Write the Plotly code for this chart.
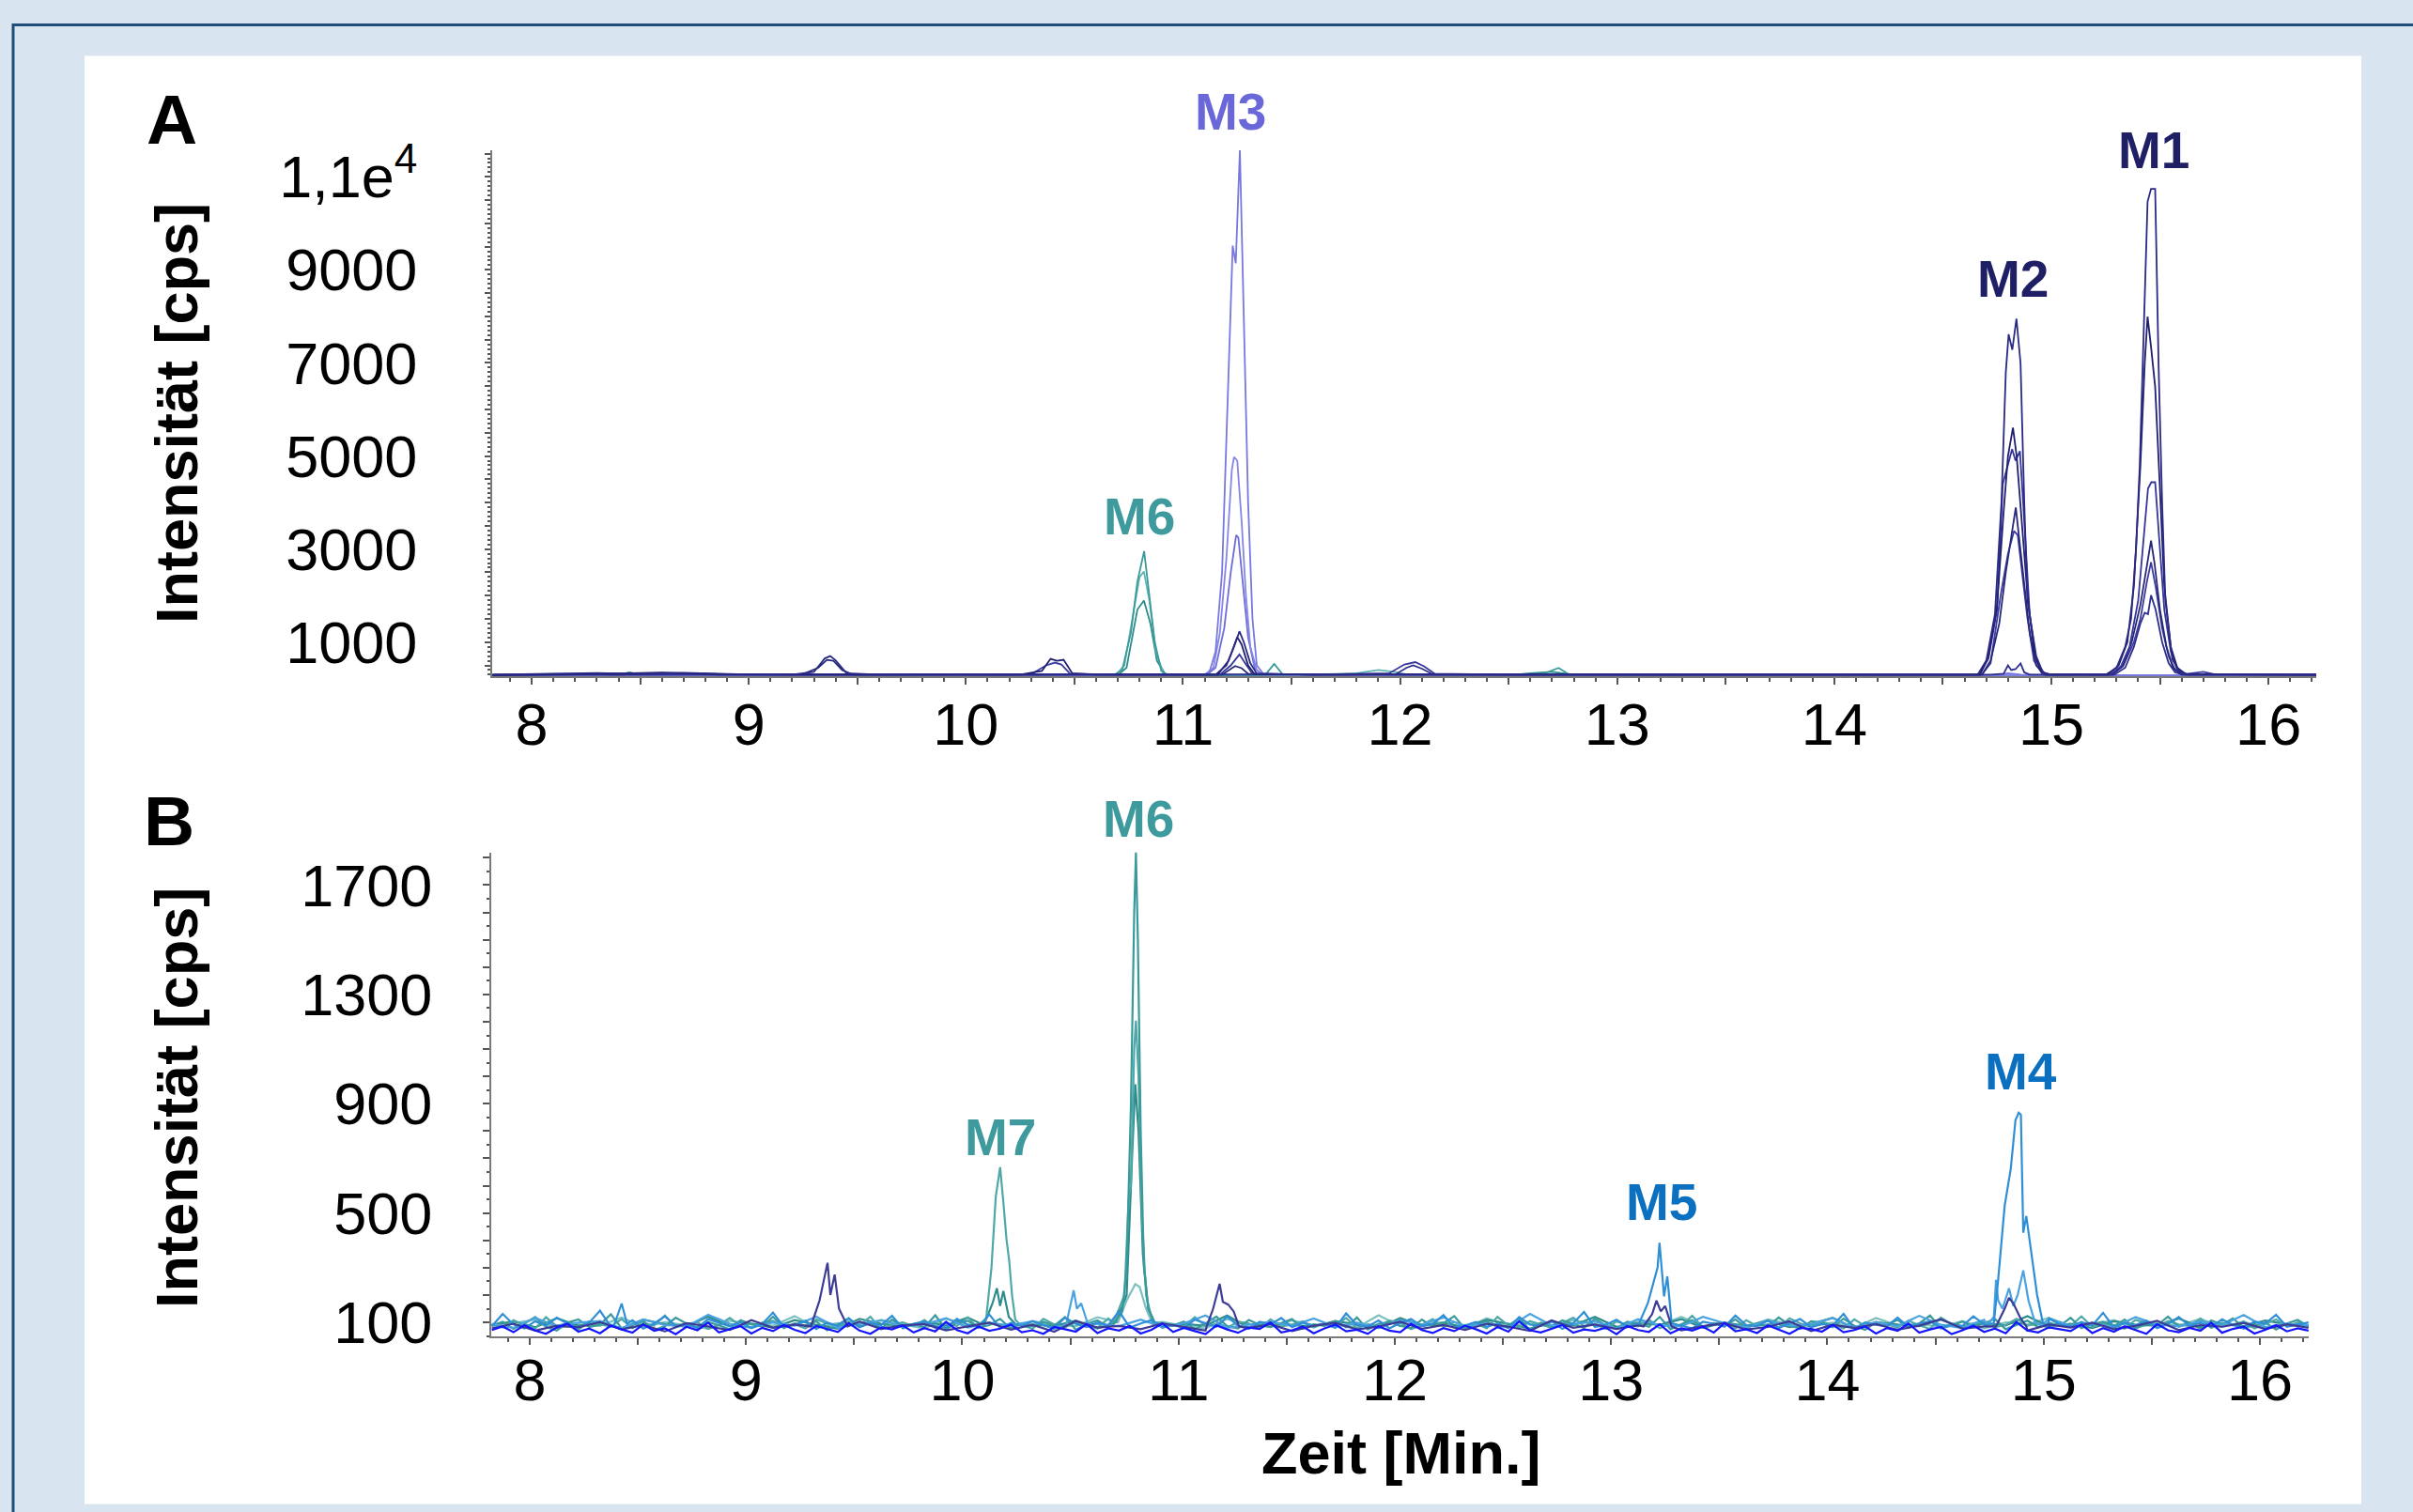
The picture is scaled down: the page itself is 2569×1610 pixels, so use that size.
import plotly.graph_objects as go

FONT = "Liberation Sans, Arial, Helvetica, sans-serif"

# ---------------- Panel A data (time [min], intensity [cps]) ----------------
A_N1 = [(7.82,300),(8.05,310),(8.3,335),(8.45,320),(8.7,340),(8.95,310),(9.2,300),(9.3,360),(9.35,650),(9.375,700),(9.40,610),(9.45,330),(9.6,300),(9.9,310),(10.2,300),(10.5,305),(10.8,295),(11.1,300),(11.15,300),(11.20,500),(11.235,900),(11.26,1233),(11.28,1000),(11.31,550),(11.34,320),(11.6,300),(11.9,305),(12.2,300),(12.6,295),(13.0,300),(13.4,305),(13.8,300),(14.2,300),(14.5,300),(14.66,300),(14.70,600),(14.74,1600),(14.77,4000),(14.79,6800),(14.803,7618),(14.820,7283),(14.839,7953),(14.858,6990),(14.875,4000),(14.89,1880),(14.93,700),(14.96,350),(15.0,300),(15.1,310),(15.2,300),(15.25,300),(15.30,450),(15.34,900),(15.367,1500),(15.39,3000),(15.407,4800),(15.425,7500),(15.443,10465),(15.459,10742),(15.478,10742),(15.494,6906),(15.51,4000),(15.525,1882),(15.557,626),(15.59,380),(15.63,300),(15.8,310),(16.0,300),(16.22,300)]
A_N2 = [(7.82,290),(8.1,300),(8.35,320),(8.6,345),(8.8,315),(9.1,300),(9.5,295),(9.9,305),(10.25,300),(10.35,380),(10.39,640),(10.42,600),(10.45,620),(10.49,330),(10.6,300),(10.9,300),(11.16,300),(11.21,600),(11.25,1108),(11.27,950),(11.30,500),(11.33,310),(11.7,300),(12.0,310),(12.4,300),(12.8,305),(13.3,300),(13.7,295),(14.1,300),(14.5,300),(14.67,300),(14.71,700),(14.75,1800),(14.78,3800),(14.80,5000),(14.823,5608),(14.84,5000),(14.86,3800),(14.89,2000),(14.92,800),(14.95,400),(14.98,300),(15.1,300),(15.26,300),(15.31,500),(15.35,1000),(15.38,2200),(15.41,4800),(15.43,7000),(15.443,7995),(15.46,7300),(15.478,6488),(15.50,4300),(15.52,2200),(15.55,900),(15.58,450),(15.62,310),(15.9,300),(16.22,295)]
A_N3 = [(7.82,295),(8.2,305),(8.5,330),(8.75,320),(9.0,300),(9.4,300),(9.8,300),(10.2,310),(10.6,300),(11.0,300),(11.17,300),(11.22,500),(11.26,735),(11.29,520),(11.32,320),(11.6,300),(11.95,330),(12.02,520),(12.07,570),(12.11,480),(12.16,320),(12.5,300),(12.9,300),(13.3,305),(13.8,300),(14.3,300),(14.67,300),(14.71,650),(14.75,1700),(14.776,4394),(14.80,4800),(14.819,5148),(14.835,4900),(14.855,5106),(14.87,4000),(14.90,1600),(14.93,600),(14.97,300),(15.15,305),(15.27,300),(15.32,480),(15.36,900),(15.40,1900),(15.43,3500),(15.445,4300),(15.46,4436),(15.478,4436),(15.50,3000),(15.52,1700),(15.55,800),(15.58,400),(15.62,300),(15.9,300),(16.22,300)]
A_N4 = [(7.82,300),(8.15,315),(8.4,300),(8.65,330),(8.9,310),(9.25,310),(9.32,450),(9.36,620),(9.39,600),(9.43,400),(9.48,300),(9.8,300),(10.1,300),(10.5,300),(10.9,300),(11.18,300),(11.24,487),(11.27,440),(11.30,320),(11.6,300),(12.0,300),(12.4,305),(12.9,300),(13.4,300),(13.9,300),(14.3,300),(14.68,300),(14.72,600),(14.76,1400),(14.79,2500),(14.815,3300),(14.836,3892),(14.85,3300),(14.87,2500),(14.90,1200),(14.93,500),(14.97,300),(15.2,300),(15.28,300),(15.33,500),(15.37,1000),(15.41,1800),(15.44,2600),(15.459,3180),(15.475,2700),(15.50,1700),(15.53,900),(15.56,450),(15.60,300),(15.95,300),(16.22,300)]
A_N5 = [(7.82,290),(8.25,300),(8.55,320),(8.85,300),(9.2,300),(9.6,300),(10.0,295),(10.3,310),(10.37,500),(10.41,560),(10.44,520),(10.48,320),(10.7,300),(11.0,300),(11.4,300),(11.8,300),(12.3,300),(12.7,300),(13.2,300),(13.6,300),(14.0,305),(14.4,300),(14.68,300),(14.72,550),(14.768,2050),(14.80,2900),(14.828,3389),(14.845,3300),(14.86,2700),(14.89,1500),(14.92,600),(14.96,300),(15.2,300),(15.28,300),(15.33,480),(15.38,1000),(15.41,1500),(15.44,2300),(15.459,2719),(15.48,2200),(15.51,1300),(15.54,700),(15.57,400),(15.61,310),(15.7,360),(15.75,310),(16.0,300),(16.22,300)]
A_N6 = [(7.82,295),(8.3,300),(8.7,310),(9.1,300),(9.5,300),(10.0,300),(10.5,300),(11.0,300),(11.5,300),(11.98,310),(12.03,450),(12.06,500),(12.10,430),(12.15,310),(12.6,300),(13.1,300),(13.6,300),(14.1,300),(14.5,300),(14.72,300),(14.78,320),(14.80,500),(14.815,400),(14.835,420),(14.858,542),(14.875,350),(14.90,300),(15.1,300),(15.29,300),(15.34,450),(15.38,900),(15.41,1400),(15.43,1630),(15.445,1600),(15.459,2007),(15.48,1700),(15.51,1000),(15.54,550),(15.57,350),(15.61,300),(15.9,300),(16.22,300)]
A_S1 = [(7.82,285),(8.3,290),(8.8,290),(9.3,285),(9.8,290),(10.3,285),(10.8,290),(11.08,290),(11.12,330),(11.15,800),(11.18,2500),(11.205,6000),(11.229,9520),(11.243,9140),(11.262,11570),(11.28,8000),(11.30,4000),(11.32,1500),(11.34,500),(11.37,320),(11.7,290),(12.2,290),(12.8,285),(13.5,290),(14.2,285),(14.75,290),(14.8,330),(14.86,300),(15.0,290),(15.5,290),(16.22,290)]
A_S2 = [(7.82,285),(8.5,290),(9.2,285),(9.9,290),(10.6,290),(11.10,300),(11.14,450),(11.17,1200),(11.20,2800),(11.225,4700),(11.235,4980),(11.25,4900),(11.27,3600),(11.29,2000),(11.31,900),(11.34,400),(11.37,300),(11.8,290),(12.5,290),(13.2,285),(13.9,290),(14.6,290),(15.3,290),(16.22,290)]
A_S3 = [(7.82,285),(8.6,288),(9.4,285),(10.2,290),(10.9,288),(11.11,300),(11.15,450),(11.19,1300),(11.22,2500),(11.245,3300),(11.255,3250),(11.275,2300),(11.30,1100),(11.33,450),(11.36,300),(12.0,290),(12.8,288),(13.6,290),(14.4,288),(15.2,290),(16.22,288)]
A_T1 = [(7.82,280),(8.2,290),(8.45,330),(8.55,290),(8.9,285),(9.3,290),(9.7,285),(10.1,290),(10.5,285),(10.68,290),(10.72,400),(10.76,1200),(10.79,2300),(10.821,2954),(10.84,2200),(10.87,1000),(10.90,380),(10.93,290),(11.2,285),(11.38,300),(11.42,530),(11.46,300),(11.8,290),(12.3,285),(12.65,300),(12.73,445),(12.78,300),(13.2,285),(13.8,285),(14.4,285),(15.0,285),(15.6,285),(16.22,285)]
A_T2 = [(7.82,285),(8.3,295),(8.7,320),(8.8,290),(9.2,285),(9.6,290),(10.0,285),(10.4,290),(10.69,290),(10.73,500),(10.77,1600),(10.80,2400),(10.82,2517),(10.845,1900),(10.875,800),(10.91,330),(10.95,290),(11.5,285),(11.8,330),(11.9,400),(11.97,360),(12.05,290),(12.4,285),(12.9,290),(13.3,285),(13.9,285),(14.5,285),(15.1,285),(15.7,285),(16.22,285)]
A_T3 = [(7.82,285),(8.4,295),(8.45,350),(8.5,295),(9.0,285),(9.4,288),(9.9,285),(10.2,300),(10.3,285),(10.70,290),(10.74,450),(10.77,1250),(10.79,1700),(10.82,1895),(10.85,1400),(10.88,600),(10.92,300),(11.3,285),(11.9,290),(12.5,285),(12.6,330),(12.7,360),(12.8,300),(13.4,285),(14.0,288),(14.6,285),(15.2,285),(15.8,285),(16.22,285)]

A_TRACES = [
    (A_T3, "#2f8c8c"), (A_T2, "#5fb3b3"), (A_T1, "#3a9a9a"),
    (A_S3, "#6c6cd8"), (A_S2, "#8585e8"), (A_S1, "#7777e0"),
    (A_N6, "#2d2d8c"), (A_N5, "#3a3aa0"), (A_N4, "#282878"),
    (A_N3, "#35359a"), (A_N2, "#1f1f70"), (A_N1, "#2a2a85"),
]

# ---------------- Panel B data ----------------
# sampling times of the baseline scans
GRID_FINE = [round(7.825 + 0.05 * i, 3) for i in range(169)]
GRID_COARSE = [round(7.825 + 0.1 * i, 3) for i in range(85)]

NOISE_T1 = [88,102,76,95,120,84,70,99,111,83,92,130,78,
            90,105,72,86,117,95,80,101,89,74,108,93,85,
            121,79,96,88,104,71,92,115,83,99,77,110,87,
            94,82,126,75,98,106,81,90,113,76,97,85,102,
            88,119,73,94,107,84,79,100,92,116,80,89,103,
            75,96,121,86,78,109,91,83,98,112,77,93,87,
            105,82,118,74,95,101,88,79,110,85,97,123,76,
            91,104,83,88,115,72,99,86,107,94,80,113,89,
            78,102,96,84,120,75,93,108,81,97,87,111,79,
            95,85,118,90,76,104,99,82,114,87,73,101,92,
            109,80,96,125,78,88,103,84,97,112,75,90,106,
            83,99,87,117,79,94,102,86,110,77,95,89,121,
            84,98,76,107,92,115,81,88,100,74,96,109,85]
NOISE_T2 = [95,81,108,90,77,119,86,98,73,104,92,85,112,
            79,97,88,125,83,94,101,76,90,116,87,80,99,
            106,84,93,78,111,96,82,103,89,121,75,92,100,
            86,109,80,95,87,118,78,97,84,105,91,76,113,
            93,82,100,88,79,114,95,86,107,74,98,90,83,
            119,87,94,80,102,96,77,111,85,92,104,81,97,
            88,116,79,93,86,107,99,75,90,112,84,101,87,
            96,78,120,89,83,105,92,80,98,117,86,94,76,
            103,91,85,110,79,97,88,124,82,95,100,77,108,
            87,93,81,115,96,84,102,90,78,111,86,99,94,
            80,106,89,76,118,93,85,97,104,82,91,113,88,
            95,79,101,87,122,84,96,90,77,109,98,83,105,
            92,86,114,80,97,89,103,78,94,111,85,100,88]
NOISE_LB1 = [86,131,92,78,104,88,117,95,81,99,143,84,90,
             108,77,96,122,87,93,80,112,98,85,101,79,94,
             136,83,91,106,76,99,88,115,82,97,90,124,78,
             95,103,86,80,113,92,85,129,79,98,87,105,91,
             77,118,94,83,100,89,141,81,96,108,85,92,79,
             110,97,84,121,88,76,102,93,116,82,99,87,95,
             80,133,90,85,107,78,98,112,86,94,127,81,89,
             101,84,96,79,119,92,87,104,76,97,138,83,91,
             110,85,99,80,93,115,88,78,102,95,84,125,90,
             86,107,79,97,112,82,94,88,131,77,100,91,85,
             118,83,96,104,80,92,87,122,95,81,99,109,86,
             78,114,93,85,101,88,135,82,97,90,106,79,94,
             120,87,98,83,111,91,77,103,96,128,84,92,100]
NOISE_BB = [72,85,64,90,70,58,81,95,66,77,60,88,74,
            62,93,69,78,57,84,71,99,63,75,86,59,80,
            68,91,73,61,87,76,65,97,70,58,82,74,89,
            63,79,67,102,72,60,85,69,77,92,64,71,58,
            83,75,66,94,61,78,70,87,59,73,96,65,80,
            68,57,89,74,62,81,76,100,63,71,85,60,78,
            92,67,73,58,86,70,64,95,72,61,79,68,88,
            75,59,83,66,104,71,63,77,90,62,74,69,81,
            57,87,72,65,93,60,78,70,84,63,98,67,75,
            61,89,73,58,80,76,66,91,64,72,85,59,79,
            69,96,62,74,83,57,71,88,65,77,60,101,70,
            63,82,75,68,92,61,79,66,86,73,58,94,71,
            64,80,69,99,62,76,84,59,73,90,67,78,70]
NOISE_T3 = [90,104,82,115,88,97,79,110,93,85,121,87,96,
            80,108,91,77,113,95,84,102,89,118,81,99,92,
            86,107,78,97,111,83,94,88,125,80,100,90,85,
            105,93,79,116,87,98,82,109,95,77,103,89,120,
            84,96,91,112,80,99,87,106,83,94,117,78,101,
            92,86,110,81,97,89,123,85,95,79,104,91,88,
            114,82,98,86,107,93,90]
NOISE_T4 = [84,96,110,79,92,87,118,83,101,90,77,106,95,
            88,123,81,97,85,109,93,78,114,89,99,82,104,
            91,86,119,80,95,102,87,78,112,94,83,107,90,
            97,81,126,86,93,100,79,115,88,96,84,108,92,
            77,103,90,120,85,98,82,111,94,87,99,80,116,
            89,95,83,105,78,100,92,117,86,91,108,81,97,
            88,113,84,102,79,94,90]
NOISE_LB2 = [92,80,117,86,99,105,78,111,90,84,128,95,82,
             100,88,121,79,96,107,85,93,115,81,98,89,104,
             77,119,94,86,110,83,97,125,80,91,102,87,114,
             84,99,79,108,92,118,85,96,81,131,89,94,103,
             78,112,90,85,120,97,82,106,88,93,116,80,101,
             86,124,91,79,109,95,84,113,87,98,81,119,92,
             85,104,90,127,83,96,88]
NOISE_NV = [78,95,70,88,82,101,74,90,67,97,85,72,108,
            80,92,69,86,103,76,89,94,71,84,99,73,91,
            66,105,81,87,75,96,83,70,110,79,93,68,88,
            98,74,85,102,77,90,72,95,84,69,107,80,92,
            76,89,100,71,86,97,74,83,104,68,91,79,94,
            73,88,112,77,85,96,70,92,81,99,75,87,106,
            72,90,84,98,76,93,80]

# peak segments (time, cps)
B_T1_PEAKS = [[(10.70,95),(10.74,140),(10.76,300),(10.78,900),(10.795,1600),(10.803,1820),(10.812,1500),(10.825,800),(10.84,300),(10.86,150),(10.89,100)]]
B_T2_PEAKS = [[(10.08,95),(10.11,110),(10.135,300),(10.155,560),(10.175,668),(10.19,540),(10.205,400),(10.217,327),(10.23,200),(10.245,110),(10.27,90)],
              [(10.70,100),(10.75,200),(10.77,560),(10.78,600),(10.795,1100),(10.803,1204),(10.815,1000),(10.83,500),(10.85,200),(10.88,100)]]
B_T3_PEAKS = [[(10.10,90),(10.14,170),(10.16,225),(10.175,160),(10.19,215),(10.215,120),(10.25,90)],
              [(10.71,100),(10.76,200),(10.785,700),(10.80,971),(10.815,800),(10.835,350),(10.86,150),(10.89,95)]]
B_T4_PEAKS = [[(10.72,100),(10.76,180),(10.79,225),(10.80,240),(10.82,230),(10.85,150),(10.88,95)]]
B_LB1_PEAKS = [[(8.39,90),(8.425,169),(8.45,95)],
               [(13.10,90),(13.13,97),(13.17,170),(13.20,256),(13.215,300),(13.224,391),(13.235,300),(13.245,195),(13.26,268),(13.28,97),(13.31,90)],
               [(14.73,90),(14.77,97),(14.79,256),(14.82,527),(14.848,661),(14.87,840),(14.885,867),(14.895,860),(14.906,428),(14.92,489),(14.94,366),(14.97,200),(14.997,97),(15.02,85)]]
B_LB2_PEAKS = [[(10.48,90),(10.515,217),(10.53,150),(10.55,170),(10.58,95)],
               [(14.74,90),(14.77,120),(14.78,256),(14.79,180),(14.81,150),(14.84,225),(14.86,160),(14.88,200),(14.906,290),(14.93,180),(14.96,100),(14.99,90)]]
B_NV_PEAKS = [[(9.30,85),(9.34,180),(9.377,318),(9.39,200),(9.41,275),(9.43,150),(9.47,85)],
              [(11.13,85),(11.16,150),(11.19,241),(11.205,175),(11.23,165),(11.255,140),(11.28,85)],
              [(13.15,85),(13.19,130),(13.21,180),(13.23,140),(13.25,160),(13.28,85)],
              [(14.78,85),(14.82,150),(14.84,190),(14.86,170),(14.89,120),(14.92,85)]]

B_TRACES = [
    (GRID_COARSE, NOISE_T4, B_T4_PEAKS, "#7cc0c0"),
    (GRID_COARSE, NOISE_T3, B_T3_PEAKS, "#2e8b8b"),
    (GRID_FINE, NOISE_T2, B_T2_PEAKS, "#4fa8a8"),
    (GRID_FINE, NOISE_T1, B_T1_PEAKS, "#3a9a9a"),
    (GRID_COARSE, NOISE_LB2, B_LB2_PEAKS, "#4aa3e0"),
    (GRID_FINE, NOISE_LB1, B_LB1_PEAKS, "#2f8fd6"),
    (GRID_COARSE, NOISE_NV, B_NV_PEAKS, "#3c3c96"),
    (GRID_FINE, NOISE_BB, [], "#1515ff"),
]

# peak labels (text, time, intensity, colour)
A_LABELS = [("M3", 11.22, 12405, "#6A67D8"), ("M6", 10.80, 3706, "#3E9A9C"),
            ("M2", 14.824, 8800, "#1F1F66"), ("M1", 15.47, 11577, "#1F1F66")]
B_LABELS = [("M6", 10.816, 1943, "#3E9A9C"), ("M7", 10.176, 777, "#3E9A9C"),
            ("M5", 13.235, 540, "#0B70C0"), ("M4", 14.893, 1019, "#0B70C0")]

A_YTICKS = [1000, 3000, 5000, 7000, 9000, 11000]
A_YTEXT = ["1000", "3000", "5000", "7000", "9000", "1,1e<sup>4</sup>"]
B_YTICKS = [100, 500, 900, 1300, 1700]
X_TICKS = [8, 9, 10, 11, 12, 13, 14, 15, 16]

A_YRANGE = [262, 11580]
B_YRANGE = [48, 1820]

W, H = 2569, 1610


def px(x):
    return x / W


def py(y):
    # vertical page position (px from top) -> paper fraction, corrected for the
    # slight vertical squeeze observed in the rendered page
    return 1 - ((y - 14.6) / 0.977) / H


def build(grid, noise, peaks):
    windows = [(seg[0][0], seg[-1][0]) for seg in peaks]
    pts = [(t, v) for t, v in zip(grid, noise) if not any(a <= t <= b for a, b in windows)]
    for seg in peaks:
        pts.extend(seg)
    pts.sort()
    return [p[0] for p in pts], [p[1] for p in pts]


fig = go.Figure()
for pts, col in A_TRACES:
    fig.add_trace(go.Scatter(x=[p[0] for p in pts], y=[p[1] for p in pts], mode="lines",
                             line=dict(color=col, width=1.8), xaxis="x", yaxis="y",
                             hoverinfo="skip"))
for grid, noise, peaks, col in B_TRACES:
    xs, ys = build(grid, noise, peaks)
    fig.add_trace(go.Scatter(x=xs, y=ys, mode="lines", line=dict(color=col, width=2.2),
                             xaxis="x2", yaxis="y2", hoverinfo="skip"))

# x tick values at every half minute, labels on whole minutes
xt_vals = [8 + 0.5 * i for i in range(17)]
xt_text = [str(int(v)) if v in X_TICKS else "" for v in xt_vals]

axis_common = dict(showline=True, linecolor="#7a7a7a", linewidth=2, ticks="outside",
                   tickcolor="#555555", tickwidth=2, showgrid=False, zeroline=False,
                   tickfont=dict(family=FONT, size=63, color="black"), fixedrange=True)

ya_vals = [500 * i for i in range(1, 24)]
ya_text = [A_YTEXT[A_YTICKS.index(v)] if v in A_YTICKS else "" for v in ya_vals]
yb_vals = [100 * i for i in range(1, 19)]
yb_text = [str(v) if v in B_YTICKS else "" for v in yb_vals]

fig.update_layout(
    width=W, height=H, margin=dict(l=0, r=0, t=0, b=0),
    paper_bgcolor="#d8e4f0", plot_bgcolor="white", showlegend=False,
    xaxis=dict(domain=[px(524), px(2466)], range=[7.818, 16.22], anchor="y",
               tickmode="array", tickvals=xt_vals, ticktext=xt_text, ticklen=7,
               minor=dict(dtick=0.1, tick0=8, ticklen=4, ticks="outside", tickcolor="#555555", tickwidth=1.5),
               ticklabelstandoff=-12, **axis_common),
    yaxis=dict(domain=[py(719), py(159)], range=A_YRANGE, anchor="x",
               tickmode="array", tickvals=ya_vals, ticktext=ya_text, ticklen=6,
               minor=dict(dtick=100, tick0=0, ticklen=3, ticks="outside", tickcolor="#555555", tickwidth=1.5),
               ticklabelstandoff=59, **axis_common),
    xaxis2=dict(domain=[px(523), px(2458)], range=[7.822, 16.226], anchor="y2",
                tickmode="array", tickvals=xt_vals, ticktext=xt_text, ticklen=7,
                minor=dict(dtick=0.1, tick0=8, ticklen=4, ticks="outside", tickcolor="#555555", tickwidth=1.5),
                ticklabelstandoff=-17, **axis_common),
    yaxis2=dict(domain=[py(1421), py(906)], range=B_YRANGE, anchor="x2",
                tickmode="array", tickvals=yb_vals, ticktext=yb_text, ticklen=7,
                minor=dict(dtick=50, tick0=0, ticklen=3.5, ticks="outside", tickcolor="#555555", tickwidth=1.5),
                ticklabelstandoff=41, **axis_common),
    shapes=[
        dict(type="rect", xref="paper", yref="paper", x0=px(90), x1=px(2514),
             y0=py(1599), y1=py(59), fillcolor="white", line=dict(width=0), layer="below"),
        dict(type="rect", xref="paper", yref="paper", x0=px(14), x1=1.05,
             y0=-0.05, y1=py(26), fillcolor="rgba(0,0,0,0)",
             line=dict(color="#1f4e79", width=3), layer="below"),
    ],
)


def frac(v, rng):
    return (v - rng[0]) / (rng[1] - rng[0])


ann = []
for txt, x, y, col in A_LABELS:
    ann.append(dict(text=txt, x=x, y=frac(y, A_YRANGE), xref="x", yref="y domain", showarrow=False,
                    xanchor="center", yanchor="middle",
                    font=dict(family=FONT, size=55, color=col, weight="bold")))
for txt, x, y, col in B_LABELS:
    ann.append(dict(text=txt, x=x, y=frac(y, B_YRANGE), xref="x2", yref="y2 domain", showarrow=False,
                    xanchor="center", yanchor="middle",
                    font=dict(family=FONT, size=55, color=col, weight="bold")))
bold63 = dict(family=FONT, size=63, color="black", weight="bold")
c = dict(xref="paper", yref="paper", showarrow=False, xanchor="center", yanchor="middle")
ann += [
    dict(text="A", x=px(183), y=py(126), font=dict(family=FONT, size=75, color="black", weight="bold"), **c),
    dict(text="B", x=px(180), y=py(872), font=dict(family=FONT, size=75, color="black", weight="bold"), **c),
    dict(text="Intensität [cps]", x=px(188), y=py(439), textangle=-90, font=bold63, **c),
    dict(text="Intensität [cps]", x=px(188), y=py(1167), textangle=-90, font=bold63, **c),
    dict(text="Zeit [Min.]", x=px(1491), y=py(1545), font=bold63, **c),
]
fig.update_layout(annotations=ann)

fig.write_html("out.html", config={"displayModeBar": False},
               post_script="document.body.style.margin='0px';document.body.style.overflow='hidden';")
